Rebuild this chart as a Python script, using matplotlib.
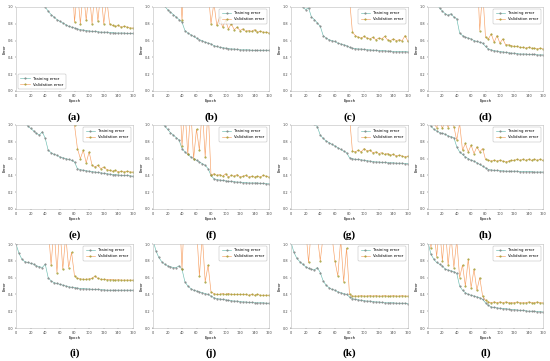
import numpy as np
import matplotlib
matplotlib.use('Agg')
import matplotlib.pyplot as plt

# epochs sampled every 4
epochs = np.arange(0, 161, 4)
HI = 1.5  # off-scale values (above the top of the axes)

train_a = [1.3, 1.28, 1.25, 1.22, 1.19, 1.16, 1.13, 1.10, 1.06, 1.03,
           1.0, 0.95, 0.91, 0.88, 0.85, 0.83, 0.81, 0.79, 0.77, 0.76, 0.75, 0.74, 0.73, 0.725, 0.72,
           0.715, 0.71, 0.71, 0.705, 0.70, 0.70, 0.70, 0.695, 0.695, 0.69, 0.69, 0.69, 0.69, 0.685, 0.685, 0.685]
val_a = [HI] * 20 + [0.82, 1.2, 0.80, 1.2, 0.84, 1.2, 0.80, 1.2, 0.83, 1.2, 0.80, 1.1, 0.80, 0.78, 0.77,
                     0.78, 0.76, 0.77, 0.76, 0.75, 0.75]

train_b = [1.3, 1.25, 1.18, 1.08, 1.01, 0.97, 0.94, 0.91, 0.88, 0.85, 0.82, 0.72, 0.69, 0.67, 0.65,
           0.63, 0.61, 0.60, 0.58, 0.57, 0.56, 0.54, 0.53, 0.52, 0.515, 0.51, 0.505, 0.50, 0.50, 0.495,
           0.49, 0.49, 0.49, 0.49, 0.485, 0.485, 0.485, 0.485, 0.485, 0.485, 0.485]
val_b = [HI] * 10 + [0.84] + [HI] * 8 + [1.2, 0.80, 1.05, 0.78, 0.88, 0.76, 0.84, 0.74, 0.80, 0.73,
                                           0.76, 0.72, 0.74, 0.71, 0.72, 0.71, 0.73, 0.70, 0.71, 0.70,
                                           0.70, 0.69]

train_c = [1.3, 1.2, 1.1, 1.03, 1.0, 0.97, 0.99, 0.88, 0.85, 0.81, 0.77, 0.66, 0.63, 0.61, 0.60,
           0.59, 0.57, 0.56, 0.55, 0.54, 0.52, 0.51, 0.505, 0.50, 0.50, 0.495, 0.49, 0.49, 0.485,
           0.485, 0.48, 0.48, 0.48, 0.475, 0.475, 0.47, 0.47, 0.47, 0.47, 0.47, 0.465]
val_c = [HI] * 20 + [1.1, 0.70, 0.66, 0.64, 0.63, 0.65, 0.63, 0.62, 0.64, 0.61, 0.63, 0.62, 0.65,
                     0.61, 0.60, 0.62, 0.60, 0.61, 0.60, 0.66, 0.59]

train_d = [1.3, 1.2, 1.1, 1.03, 0.99, 0.95, 0.92, 0.90, 0.92, 0.88, 0.86, 0.69, 0.66, 0.64, 0.63,
           0.62, 0.60, 0.59, 0.58, 0.57, 0.53, 0.50, 0.49, 0.48, 0.475, 0.47, 0.465, 0.46, 0.455,
           0.45, 0.45, 0.445, 0.44, 0.44, 0.44, 0.435, 0.435, 0.435, 0.43, 0.43, 0.43]
val_d = [HI] * 18 + [0.72, 1.2, 0.64, 0.62, 0.68, 0.58, 0.66, 0.57, 0.62, 0.55, 0.55, 0.54, 0.53,
                     0.53, 0.52, 0.52, 0.51, 0.52, 0.51, 0.51, 0.50, 0.51, 0.50]

train_e = [1.3, 1.2, 1.1, 1.03, 0.99, 0.96, 0.93, 0.90, 0.88, 0.92, 0.84, 0.70, 0.67, 0.65, 0.64,
           0.62, 0.61, 0.60, 0.59, 0.58, 0.56, 0.48, 0.47, 0.46, 0.455, 0.45, 0.445, 0.44, 0.435,
           0.43, 0.425, 0.42, 0.415, 0.41, 0.41, 0.405, 0.40, 0.40, 0.40, 0.395, 0.39]
val_e = [HI] * 20 + [1.0, 0.72, 0.60, 0.70, 0.55, 0.68, 0.52, 0.50, 0.52, 0.48, 0.50, 0.47, 0.46,
                     0.45, 0.46, 0.44, 0.45, 0.44, 0.45, 0.44, 0.44]

train_f = [1.3, 1.2, 1.1, 1.03, 0.99, 0.95, 0.91, 0.88, 0.85, 0.82, 0.72, 0.68, 0.65, 0.62, 0.60,
           0.58, 0.56, 0.54, 0.52, 0.48, 0.40, 0.36, 0.35, 0.345, 0.34, 0.335, 0.33, 0.33, 0.325,
           0.32, 0.32, 0.315, 0.315, 0.31, 0.31, 0.31, 0.31, 0.305, 0.305, 0.30, 0.30]
val_f = [HI] * 10 + [0.75, 1.2, 0.65, 1.2, 0.60, 0.95, 0.70, 1.2, 0.62, 1.2, 0.40, 0.42, 0.40, 0.41,
                     0.39, 0.42, 0.38, 0.40, 0.39, 0.41, 0.38, 0.39, 0.40, 0.38, 0.39, 0.38, 0.39,
                     0.38, 0.40, 0.39, 0.38]

train_g = [1.3, 1.25, 1.2, 1.15, 1.12, 1.1, 1.07, 1.04, 1.01, 0.98, 0.88, 0.84, 0.81, 0.79, 0.77,
           0.75, 0.73, 0.71, 0.69, 0.67, 0.61, 0.60, 0.59, 0.59, 0.585, 0.58, 0.575, 0.57, 0.565,
           0.56, 0.56, 0.555, 0.555, 0.55, 0.55, 0.55, 0.545, 0.545, 0.545, 0.54, 0.54]
val_g = [HI] * 20 + [1.1, 0.69, 0.68, 0.70, 0.68, 0.72, 0.69, 0.70, 0.67, 0.68, 0.66, 0.67, 0.65,
                     0.66, 0.64, 0.65, 0.63, 0.64, 0.63, 0.62, 0.63]

train_h = [1.05, 0.99, 0.95, 0.93, 0.91, 0.90, 0.89, 0.87, 0.86, 0.85, 0.74, 0.68, 0.65, 0.62, 0.60,
           0.58, 0.57, 0.55, 0.53, 0.51, 0.49, 0.47, 0.465, 0.46, 0.46, 0.455, 0.455, 0.45, 0.45,
           0.45, 0.45, 0.45, 0.445, 0.445, 0.445, 0.445, 0.445, 0.44, 0.44, 0.44, 0.44]
val_h = [HI, 1.2, 1.02, 0.97, 1.05, 0.96, 1.05, 0.97, 1.05, 0.98, 0.82, 1.02, 0.70, 0.78, 0.68,
         0.76, 0.66, 0.74, 0.68, 0.72, 0.59, 0.58, 0.57, 0.58, 0.57, 0.58, 0.57, 0.56, 0.57, 0.58,
         0.58, 0.59, 0.58, 0.59, 0.58, 0.59, 0.58, 0.59, 0.58, 0.59, 0.58]

train_i = [1.0, 0.89, 0.82, 0.79, 0.78, 0.77, 0.76, 0.74, 0.73, 0.72, 0.76, 0.60, 0.56, 0.54, 0.53,
           0.52, 0.51, 0.50, 0.49, 0.485, 0.48, 0.475, 0.47, 0.47, 0.465, 0.465, 0.46, 0.46, 0.46,
           0.455, 0.455, 0.45, 0.45, 0.45, 0.45, 0.45, 0.45, 0.45, 0.45, 0.45, 0.45]
val_i = [HI] * 11 + [1.2, 0.75, 1.2, 0.66, 1.2, 0.70, 1.1, 0.72, 0.90, 0.62, 0.59, 0.585, 0.58,
                     0.58, 0.585, 0.59, 0.62, 0.59, 0.58, 0.58, 0.575, 0.575, 0.575, 0.57, 0.575,
                     0.57, 0.57, 0.57, 0.57, 0.57]

train_j = [1.05, 0.92, 0.84, 0.79, 0.76, 0.74, 0.73, 0.72, 0.72, 0.74, 0.70, 0.55, 0.50, 0.47, 0.45,
           0.44, 0.43, 0.42, 0.41, 0.40, 0.38, 0.36, 0.35, 0.345, 0.34, 0.335, 0.33, 0.325, 0.32,
           0.32, 0.315, 0.31, 0.31, 0.305, 0.305, 0.30, 0.30, 0.30, 0.30, 0.295, 0.295]
val_j = [HI] * 10 + [0.70, HI, HI, HI, HI, 1.2, 0.62, 1.1, 0.55, 0.75, 0.43, 0.41, 0.40, 0.40,
                     0.41, 0.40, 0.41, 0.40, 0.40, 0.40, 0.40, 0.40, 0.40, 0.39, 0.40, 0.39, 0.40,
                     0.39, 0.39, 0.39, 0.39]

train_k = [1.02, 0.90, 0.83, 0.79, 0.76, 0.73, 0.71, 0.70, 0.69, 0.72, 0.66, 0.56, 0.51, 0.48, 0.46,
           0.45, 0.43, 0.42, 0.41, 0.40, 0.37, 0.35, 0.34, 0.335, 0.33, 0.325, 0.32, 0.32, 0.315,
           0.31, 0.31, 0.305, 0.30, 0.30, 0.30, 0.30, 0.295, 0.295, 0.295, 0.295, 0.29]
val_k = [HI, HI, HI, HI, HI, 1.2, 0.78, 1.2, HI, 1.1, 0.80, 1.1, HI, HI, 1.1, 0.80, 0.62, 1.05,
         0.55, 0.95, 0.40, 0.38, 0.38, 0.38, 0.385, 0.38, 0.38, 0.385, 0.38, 0.385, 0.38, 0.38,
         0.385, 0.38, 0.38, 0.385, 0.38, 0.38, 0.385, 0.38, 0.38]

train_l = [1.02, 0.88, 0.82, 0.78, 0.76, 0.74, 0.70, 0.69, 0.68, 0.67, 0.65, 0.50, 0.45, 0.42, 0.40,
           0.39, 0.38, 0.37, 0.36, 0.34, 0.30, 0.27, 0.25, 0.245, 0.24, 0.235, 0.23, 0.23, 0.225,
           0.22, 0.22, 0.215, 0.21, 0.21, 0.205, 0.20, 0.20, 0.20, 0.195, 0.195, 0.19]
val_l = [HI, 0.95, 1.2, 0.85, 1.2, 0.80, 1.2, 0.75, 1.1, 0.72, 1.05, 0.60, 0.75, 0.50, 0.82, 0.48,
         0.70, 0.45, 0.60, 0.38, 0.33, 0.31, 0.30, 0.31, 0.30, 0.31, 0.30, 0.31, 0.30, 0.30, 0.30,
         0.31, 0.30, 0.30, 0.30, 0.31, 0.30, 0.30, 0.31, 0.30, 0.30]

panel_labels = ['(a)', '(b)', '(c)', '(d)', '(e)', '(f)', '(g)', '(h)', '(i)', '(j)', '(k)', '(l)']
train_sets = [train_a, train_b, train_c, train_d, train_e, train_f,
              train_g, train_h, train_i, train_j, train_k, train_l]
val_sets = [val_a, val_b, val_c, val_d, val_e, val_f,
            val_g, val_h, val_i, val_j, val_k, val_l]

W, H = 550, 361
fig = plt.figure(figsize=(W / 100, H / 100), dpi=100)

# axes boxes in pixels
col_lr = [(16, 133), (153, 269), (291, 408), (428, 543)]
row_tb = [(7, 91), (125, 209), (244, 328)]
label_y = [117, 235, 353]

train_col = '#6bbcb0'
val_col = '#f7a064'

for idx in range(12):
    r, c = divmod(idx, 4)
    l, rr = col_lr[c]
    t, b = row_tb[r]
    ax = fig.add_axes([l / W, 1 - b / H, (rr - l) / W, (b - t) / H])
    ax.plot(epochs, train_sets[idx], color=train_col, lw=0.45, marker='.', ms=1.0,
            mfc='#808080', mec='#808080', label='Training error')
    ax.plot(epochs, val_sets[idx], color=val_col, lw=0.45, marker='.', ms=1.0,
            mfc='#a09c30', mec='#a09c30', label='Validation error')
    ax.set_xlim(0, 160)
    ax.set_ylim(0, 1.0)
    ax.set_xticks(range(0, 161, 20))
    ax.set_yticks(np.arange(0, 1.01, 0.2))
    ax.set_yticklabels(['0.0', '0.2', '0.4', '0.6', '0.8', '1.0'])
    ax.tick_params(labelsize=2.5, length=1, width=0.3, pad=1, colors='#444444')
    for s in ax.spines.values():
        s.set_linewidth(0.4)
        s.set_color('#bbbbbb')
    ax.set_xlabel('Epoch', fontsize=2.8, labelpad=1)
    ax.set_ylabel('Error', fontsize=2.8, labelpad=1)
    loc = 'lower left' if idx == 0 else 'upper right'
    leg = ax.legend(loc=loc, fontsize=2.8, frameon=True, handlelength=2.5,
                    borderpad=0.6, labelspacing=0.5)
    leg.get_frame().set_linewidth(0.3)
    leg.get_frame().set_edgecolor('#999999')
    fig.text((l + rr) / 2 / W, 1 - label_y[r] / H, panel_labels[idx],
             ha='center', va='center', fontsize=8, fontweight='bold',
             family='Liberation Serif')

fig.savefig('out.png', dpi=100)
